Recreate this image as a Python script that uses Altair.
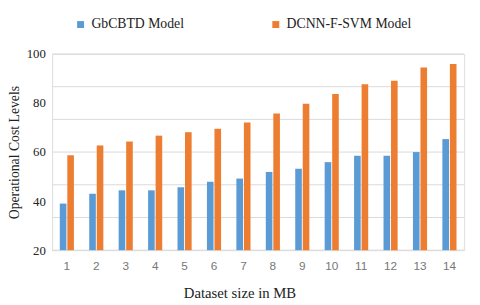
import altair as alt
import pandas as pd

sizes = [str(i) for i in range(1, 15)]
gbcbtd = [39, 43, 44.4, 44.4, 45.7, 47.9, 49.2, 51.9, 53.2, 55.9, 58.5, 58.5, 60, 65.3]
dcnn = [58.7, 62.7, 64.3, 66.7, 68.1, 69.5, 72.1, 75.7, 79.7, 83.7, 87.7, 89.1, 94.5, 95.9]
series = ["GbCBTD Model", "DCNN-F-SVM Model"]
y_labels = [20, 40, 60, 80, 100]
grid_values = [20, 33.33, 46.67, 60, 73.33, 86.67, 100]
baseline = 20

rows = []
for i, s in enumerate(sizes):
    rows.append({"size": s, "model": series[0], "value": gbcbtd[i], "base": baseline})
    rows.append({"size": s, "model": series[1], "value": dcnn[i], "base": baseline})
df = pd.DataFrame(rows)
grid_df = pd.DataFrame({"value": grid_values})

yscale = alt.Scale(domain=[20, 100], zero=False, nice=False)
yaxis = alt.Axis(values=y_labels, grid=False, ticks=False, domain=False,
                 title="Operational Cost Levels", labelFont="Liberation Serif",
                 labelFontSize=13, labelColor="#222222", labelPadding=7,
                 titleFont="Liberation Serif", titleFontSize=14,
                 titleFontWeight="normal", titleColor="#222222", titlePadding=5)

grid = alt.Chart(grid_df).mark_rule(color="#D9D9D9", strokeWidth=1).encode(
    y=alt.Y("value:Q", scale=yscale, axis=yaxis),
    x=alt.value(0), x2=alt.value(420),
)

bars = alt.Chart(df).mark_bar().encode(
    x=alt.X("size:O", sort=sizes,
            scale=alt.Scale(paddingInner=0.52, paddingOuter=0.26),
            axis=alt.Axis(title="Dataset size in MB", labelAngle=0, ticks=False, domain=False,
                          labelFont="Liberation Sans", labelFontSize=12, labelColor="#777777",
                          labelPadding=11, titleFont="Liberation Serif", titleFontSize=15,
                          titleFontWeight="normal", titleColor="#222222", titlePadding=14,
                          titleX=191)),
    xOffset=alt.XOffset("model:N", sort=series, scale=alt.Scale(paddingInner=0.12)),
    y=alt.Y("value:Q", scale=yscale, axis=yaxis),
    y2=alt.Y2("base:Q"),
    color=alt.Color("model:N", sort=series,
                    scale=alt.Scale(domain=series, range=["#5B9BD5", "#ED7D31"]),
                    legend=alt.Legend(title=None, orient="none", direction="horizontal",
                                      legendX=22, legendY=-37, symbolType="square",
                                      symbolSize=50, labelFont="Liberation Serif",
                                      labelFontSize=14, labelColor="#222222",
                                      columnPadding=86, labelOffset=4)),
)

chart = alt.layer(grid, bars).properties(
    width=420, height=200,
    autosize=alt.AutoSizeParams(type="none"),
    padding={"left": 45, "top": 44, "right": 8, "bottom": 52},
).configure_view(stroke=None).configure(background="white")

chart.save("out.html", embed_options={"renderer": "svg", "actions": False})
